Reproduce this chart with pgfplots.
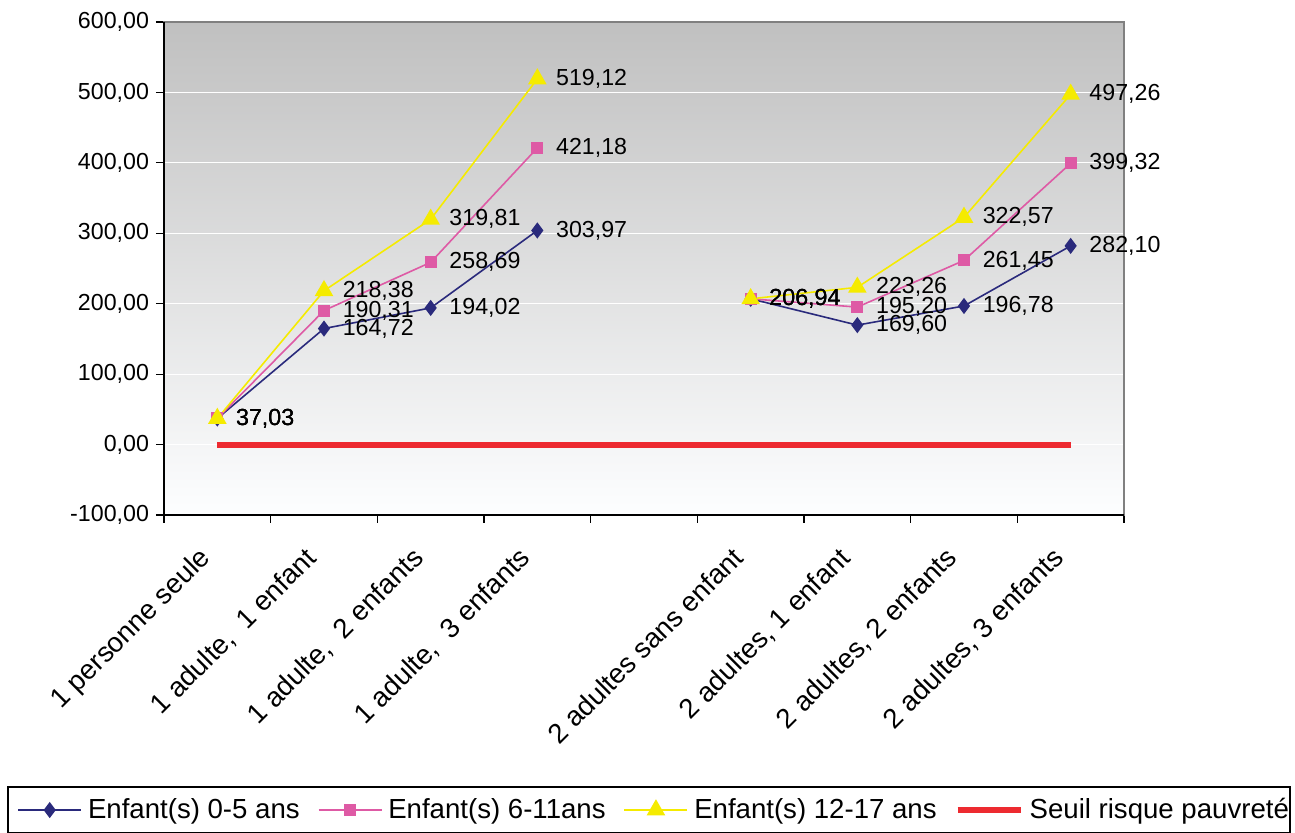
\documentclass[border=0pt]{standalone}
\usepackage{pgfplots}
\pgfplotsset{compat=1.18}
\usepackage{fontspec}
\setmainfont{Liberation Sans}
\definecolor{navyc}{RGB}{42,42,124}
\definecolor{pinkc}{RGB}{222,90,165}
\definecolor{yellc}{RGB}{245,235,0}
\definecolor{redc}{RGB}{237,42,48}
\definecolor{bordc}{RGB}{128,128,128}
\begin{document}
\begin{tikzpicture}
\begin{axis}[
  scale only axis, width=480pt, height=246.5pt,
  xmin=-0.5, xmax=8.5, ymin=-100, ymax=600,
  clip=false,
  axis background/.style={top color={rgb,255:red,192;green,192;blue,192}, bottom color={rgb,255:red,253;green,254;blue,255}},
  axis line style={draw=bordc, line width=1pt},
  tick pos=left, tick align=outside,
  major tick length=4pt, minor tick length=4pt,
  every tick/.style={black, line width=0.6pt},
  xtick={0,...,8},
  major x tick style={draw=none},
  minor xtick={-0.5,0.5,...,8.5},
  xticklabels={{1 personne seule},{1 adulte,~~1 enfant},{1 adulte,~~2 enfants},{1 adulte,~~3 enfants},{},{2 adultes sans enfant},{2 adultes, 1 enfant},{2 adultes, 2 enfants},{2 adultes, 3 enfants}},
  xticklabel style={font=\fontsize{13.8}{16}\selectfont, xshift=-10pt, yshift=-11pt, rotate=45, anchor=north east, inner sep=0pt},
  ytick={-100,0,...,600},
  yticklabel style={font=\fontsize{11.6}{14}\selectfont},
  /pgf/number format/.cd, fixed, fixed zerofill, precision=2, use comma, assume math mode=true, 1000 sep={},
  /pgfplots/.cd,
  ymajorgrids, major grid style={white, line width=0.6pt},
  unbounded coords=jump,
  nodes near coords={\pgfmathprintnumber[fixed,fixed zerofill,precision=2,use comma,assume math mode=true]{\pgfplotspointmeta}},
  every node near coord/.style={anchor=west, xshift=9pt, inner sep=0pt, font=\fontsize{11.6}{14}\selectfont, text=black},
  legend columns=4,
  legend style={draw=none, fill=none, inner sep=0pt, at={(axis description cs:-0.1531,-0.5984)}, anchor=west,
    font=\fontsize{13.8}{16}\selectfont,
    nodes={inner sep=1pt},
    /tikz/every odd column/.append style={column sep=2pt},
    /tikz/every even column/.append style={column sep=8pt}},
  legend cell align=left,
  legend image code/.code={\draw[#1, mark repeat=2, mark phase=2] plot coordinates {(0pt,0pt) (15.75pt,0pt) (31.5pt,0pt)};},
]
\addplot[navyc, line width=0.8pt, mark=diamond*, mark size=3.4pt, mark options={fill=navyc}] coordinates {
(0,37.03) (1,164.72) (2,194.02) (3,303.97) (4,nan) (5,206.94) (6,169.60) (7,196.78) (8,282.10)};
\addlegendentry{Enfant(s) 0-5 ans}
\addplot[pinkc, line width=0.8pt, mark=square*, mark size=2.6pt, mark options={fill=pinkc}] coordinates {
(0,37.03) (1,190.31) (2,258.69) (3,421.18) (4,nan) (5,206.94) (6,195.20) (7,261.45) (8,399.32)};
\addlegendentry{Enfant(s) 6-11ans}
\addplot[yellc, line width=0.8pt, mark=triangle*, mark size=4.6pt, mark options={fill=yellc}] coordinates {
(0,37.03) (1,218.38) (2,319.81) (3,519.12) (4,nan) (5,206.94) (6,223.26) (7,322.57) (8,497.26)};
\addlegendentry{Enfant(s) 12-17 ans}
\addplot[redc, line width=3pt, no marks, nodes near coords={}] coordinates {
(0,0) (1,0) (2,0) (3,0) (4,0) (5,0) (6,0) (7,0) (8,0)};
\addlegendentry{Seuil risque pauvreté}
\end{axis}
\draw[black, line width=0.8pt] (0,246.5pt) -- (0,0) -- (480pt,0);
\draw[black, line width=0.6pt] (-78pt,-136pt) rectangle (563pt,-158.6pt);
\pgfresetboundingbox
\useasboundingbox (-82pt,-159pt) rectangle (565.5pt,257.5pt);
\end{tikzpicture}
\end{document}
